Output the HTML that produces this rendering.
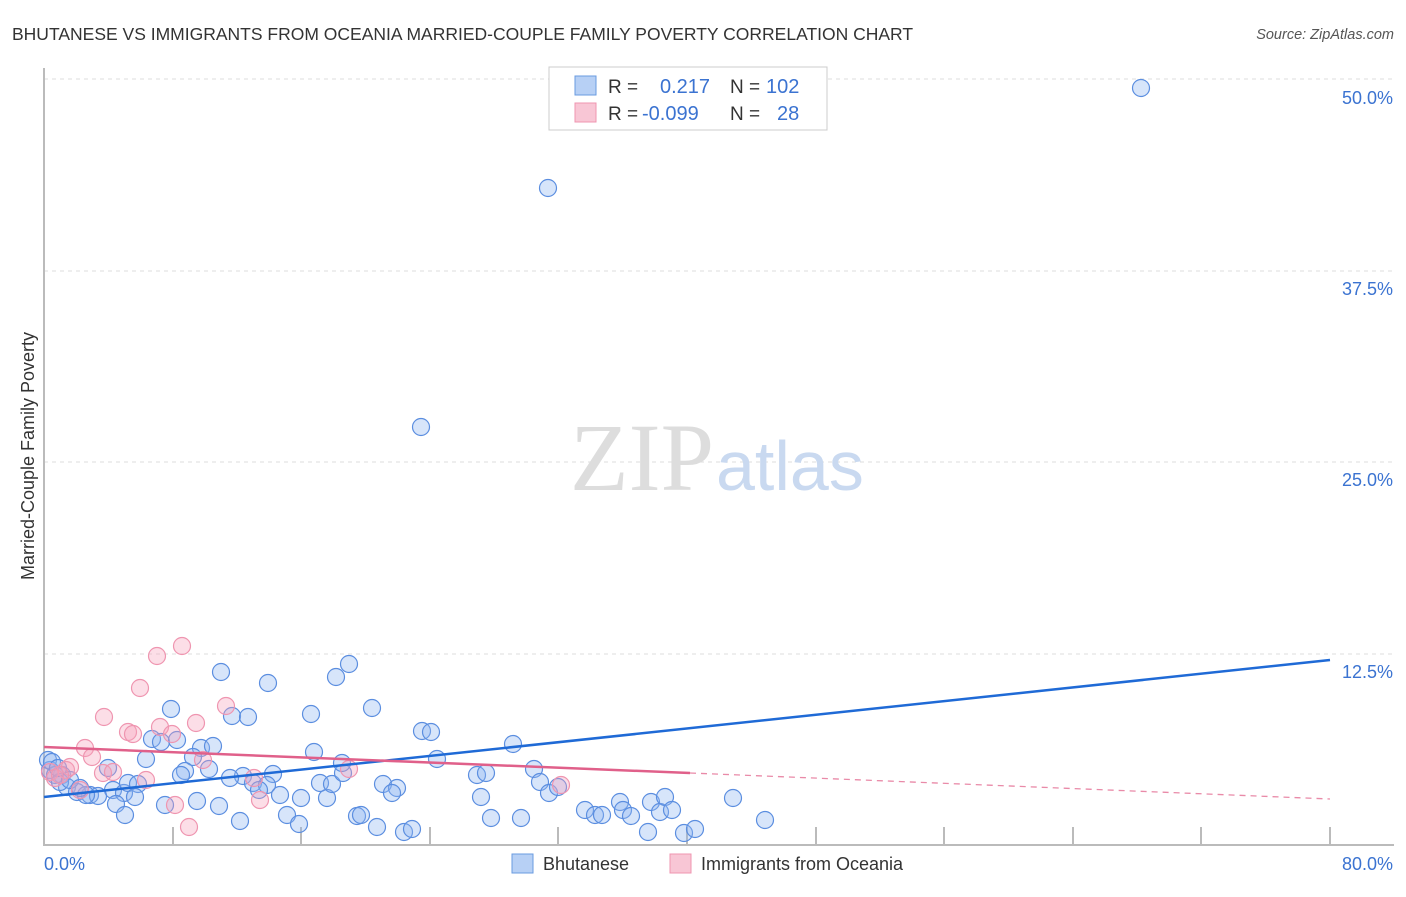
<!DOCTYPE html><html><head><meta charset="utf-8"><style>body{margin:0;background:#fff;font-family:"Liberation Sans",sans-serif}</style></head><body>
<svg width="1406" height="892" xmlns="http://www.w3.org/2000/svg" font-family="Liberation Sans, sans-serif">
<text x="12" y="40" font-size="17.5" fill="#333">BHUTANESE VS IMMIGRANTS FROM OCEANIA MARRIED-COUPLE FAMILY POVERTY CORRELATION CHART</text>
<text x="1394" y="39" font-size="14.5" fill="#555" font-style="italic" text-anchor="end">Source: ZipAtlas.com</text>
<g stroke="#ddd" stroke-dasharray="4,4"><line x1="44" x2="1394" y1="79" y2="79"/><line x1="44" x2="1394" y1="271" y2="271"/><line x1="44" x2="1394" y1="462" y2="462"/><line x1="44" x2="1394" y1="654" y2="654"/></g>
<g stroke="#bbb" stroke-width="2"><line x1="44" y1="68" x2="44" y2="846"/><line x1="43" y1="845" x2="1394" y2="845"/>
<line x1="173" y1="827" x2="173" y2="845"/><line x1="301" y1="827" x2="301" y2="845"/><line x1="430" y1="827" x2="430" y2="845"/><line x1="558" y1="827" x2="558" y2="845"/><line x1="687" y1="827" x2="687" y2="845"/><line x1="816" y1="827" x2="816" y2="845"/><line x1="944" y1="827" x2="944" y2="845"/><line x1="1073" y1="827" x2="1073" y2="845"/><line x1="1201" y1="827" x2="1201" y2="845"/><line x1="1330" y1="827" x2="1330" y2="845"/></g>
<g font-size="18" fill="#3b73d1" text-anchor="end"><text x="1393" y="104">50.0%</text><text x="1393" y="295">37.5%</text><text x="1393" y="486">25.0%</text><text x="1393" y="678">12.5%</text><text x="1393" y="870">80.0%</text></g>
<text x="44" y="870" font-size="18" fill="#3b73d1">0.0%</text>
<text transform="translate(34,456) rotate(-90)" font-size="18" fill="#333" text-anchor="middle">Married-Couple Family Poverty</text>
<text x="714" y="490" font-size="96" fill="#ddd" text-anchor="end" font-family="Liberation Serif, serif">ZIP</text>
<text x="716" y="490" font-size="70" fill="#c9d9f0">atlas</text>
<g id="b" fill="rgba(140,180,240,0.35)" stroke="#5b8ee0" stroke-width="1.2"></g>
<g id="p" fill="rgba(245,160,185,0.35)" stroke="#ef95b0" stroke-width="1.2"></g>
<line x1="44" y1="797" x2="1330" y2="660" stroke="#1f6ad6" stroke-width="2.5"/>
<line x1="44" y1="747" x2="690" y2="773" stroke="#e0608a" stroke-width="2.5"/>
<line x1="690" y1="773" x2="1330" y2="799" stroke="#e98aa8" stroke-width="1.3" stroke-dasharray="6,5"/>
<rect x="549" y="67" width="278" height="63" fill="#fff" stroke="#ccc"/>
<rect x="575" y="76" width="21" height="19" fill="#b7d0f5" stroke="#6a9be0"/>
<rect x="575" y="103" width="21" height="19" fill="#f8c6d5" stroke="#ef95b0"/>
<g font-size="19" fill="#333"><text x="608" y="93">R =</text><text x="730" y="93">N =</text><text x="608" y="120">R =</text><text x="730" y="120">N =</text></g>
<g font-size="20" fill="#3b73d1"><text x="660" y="93">0.217</text><text x="766" y="93">102</text><text x="642" y="120">-0.099</text><text x="777" y="120">28</text></g>
<rect x="512" y="854" width="21" height="19" fill="#b7d0f5" stroke="#6a9be0"/>
<text x="543" y="870" font-size="18" fill="#333">Bhutanese</text>
<rect x="670" y="854" width="21" height="19" fill="#f8c6d5" stroke="#ef95b0"/>
<text x="701" y="870" font-size="18" fill="#333">Immigrants from Oceania</text>
</svg>
<script>
var B=[[1141,88],[548,188],[421,427],[221,672],[268,683],[349,664],[336,677],[171,709],[232,716],[248,717],[311,714],[372,708],[422,731],[431,732],[513,744],[314,752],[146,759],[201,748],[213,746],[152,739],[161,742],[177,740],[193,757],[108,768],[185,771],[209,769],[181,775],[243,776],[273,774],[230,778],[253,783],[267,785],[259,790],[280,795],[113,790],[124,793],[90,795],[98,796],[62,775],[67,787],[77,792],[86,795],[128,783],[138,784],[135,797],[116,804],[125,815],[165,805],[197,801],[219,806],[240,821],[287,815],[301,798],[299,824],[327,798],[320,783],[332,784],[343,773],[342,763],[357,816],[361,815],[377,827],[383,784],[397,788],[392,793],[404,832],[412,829],[437,759],[477,775],[486,773],[481,797],[491,818],[521,818],[534,769],[540,782],[549,793],[558,787],[585,810],[595,815],[602,815],[620,802],[623,810],[631,816],[648,832],[651,802],[660,812],[665,797],[672,810],[684,833],[695,829],[733,798],[765,820],[50,770],[55,775],[60,782],[48,760],[52,762],[58,768],[70,780],[80,788]];
var P=[[182,646],[157,656],[140,688],[104,717],[226,706],[196,723],[160,727],[128,732],[133,734],[172,734],[85,748],[92,757],[66,770],[103,773],[70,767],[80,790],[113,772],[146,780],[254,778],[260,800],[175,805],[189,827],[203,760],[349,769],[561,785],[50,772],[55,778],[60,775]];
function add(id,a){var g=document.getElementById(id);a.forEach(function(p){var c=document.createElementNS("http://www.w3.org/2000/svg","circle");c.setAttribute("cx",p[0]);c.setAttribute("cy",p[1]);c.setAttribute("r",8.5);g.appendChild(c);});}
add("b",B);add("p",P);
</script>
</body></html>
